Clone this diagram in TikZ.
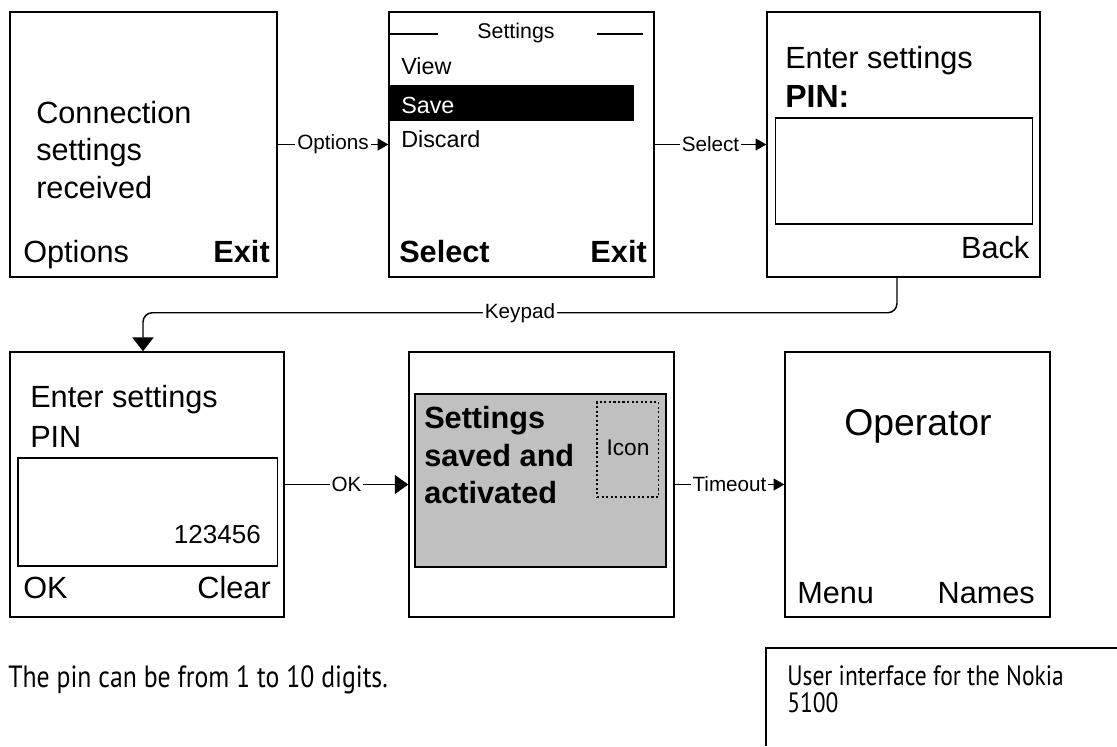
\documentclass[tikz,border=0pt]{standalone}
\usepackage{fontspec}
\setmainfont{Liberation Sans}
\newfontfamily\notefont[FakeStretch=0.84]{PT Sans}
\usetikzlibrary{arrows.meta,fit,calc}
\definecolor{panelgrey}{HTML}{C0C0C0}

\begin{document}
\begin{tikzpicture}[x=0.75pt,y=-0.75pt,
  screen/.style={draw, line width=1.1pt, inner sep=0pt},
  inbox/.style={draw, line width=1.1pt, inner sep=0pt},
  txt/.style={inner sep=0pt, font=\fontsize{23pt}{27pt}\selectfont},
  btxt/.style={inner sep=0pt, font=\fontsize{23pt}{27pt}\selectfont\bfseries},
  menutxt/.style={inner sep=0pt, font=\fontsize{17.5pt}{21pt}\selectfont},
  link/.style={line width=1.1pt},
  tipS/.style={-{Triangle[length=8pt,width=9pt]}},
  tipL/.style={-{Triangle[length=10pt,width=14pt]}},
  lbl/.style={fill=white, inner sep=1.5pt, font=\fontsize{15.5pt}{18pt}\selectfont},
  note/.style={inner sep=0pt, font=\notefont\fontsize{21pt}{25pt}\selectfont}]
\useasboundingbox (0,0) rectangle (1117,746);

% ---------- phone screens ----------
\node[screen, fit={(10,12) (277,277)}]   (s1) {};
\node[screen, fit={(389,12) (654,277)}]  (s2) {};
\node[screen, fit={(767,12) (1040,277)}] (s3) {};
\node[screen, fit={(10,352) (284,617)}]  (s4) {};
\node[screen, fit={(409,352) (674,617)}] (s5) {};
\node[screen, fit={(785,352) (1050,617)}] (s6) {};

% screen 1: incoming settings
\node[txt, anchor=base west] (s1a) at (36,123) {Connection};
\node[txt, anchor=base west] (s1b) at (36,160) {settings};
\node[txt, anchor=base west] (s1c) at (36,198) {received};
\node[txt, anchor=base west] (s1l) at (23,262) {Options};
\node[btxt, anchor=base east] (s1r) at (270,262) {Exit};

% screen 2: settings menu
\draw[line width=1.1pt] (389,34) -- (438,34);
\draw[line width=1.1pt] (597,34) -- (643,34);
\node[inner sep=0pt, font=\fontsize{16pt}{19pt}\selectfont, anchor=base] (s2h) at (516,38) {Settings};
\node[menutxt, anchor=base west] (s2a) at (401,74) {View};
\fill (389,85) rectangle (634,121);
\node[menutxt, anchor=base west, text=white] (s2b) at (401,113) {Save};
\node[menutxt, anchor=base west] (s2c) at (401,147) {Discard};
\node[btxt, anchor=base west] (s2l) at (399,262) {Select};
\node[btxt, anchor=base east] (s2r) at (647,262) {Exit};

% screen 3: PIN prompt
\node[txt, anchor=base west] (s3a) at (785,68) {Enter settings};
\node[btxt, anchor=base west, font=\fontsize{24pt}{28pt}\selectfont\bfseries] (s3b) at (785,107) {PIN:};
\node[inbox, fit={(775.5,118) (1032.5,224)}] (s3in) {};
\node[txt, anchor=base east] (s3r) at (1029.5,258) {Back};

% screen 4: PIN entered
\node[txt, anchor=base west] (s4a) at (30,407) {Enter settings};
\node[txt, anchor=base west] (s4b) at (30,447) {PIN};
\node[inbox, fit={(18,458) (277.5,566)}] (s4in) {};
\node[inner sep=0pt, font=\fontsize{19.5pt}{23pt}\selectfont, anchor=base east] (s4pin) at (261,543) {123456};
\node[txt, anchor=base west] (s4l) at (23,598) {OK};
\node[txt, anchor=base east] (s4r) at (271,598) {Clear};

% screen 5: confirmation note
\node[fill=panelgrey, draw, line width=1.1pt, inner sep=0pt, fit={(415,394) (666,567)}] (s5note) {};
\node[btxt, anchor=base west] (s5a) at (424,428) {Settings};
\node[btxt, anchor=base west] (s5b) at (424,466) {saved and};
\node[btxt, anchor=base west] (s5c) at (424,503) {activated};
\node[draw, line width=1.1pt, dash pattern=on 1.6pt off 1.8pt, inner sep=0pt, fit={(597,402) (658.5,497)}] (s5icon) {};
\node[inner sep=0pt, font=\fontsize{17pt}{20pt}\selectfont, anchor=base] (s5t) at (628,455) {Icon};

% screen 6: idle screen
\node[inner sep=0pt, font=\fontsize{28pt}{32pt}\selectfont, anchor=base] (s6a) at (918,435) {Operator};
\node[txt, anchor=base west] (s6l) at (797,603) {Menu};
\node[txt, anchor=base east] (s6r) at (1035,603) {Names};

% ---------- transitions ----------
\draw[link, tipS] (s1.east) -- node[lbl] (e1) {Options} (s2.west);
\draw[link, tipS] (s2.east) -- node[lbl] (e2) {Select} (s3.west);
\draw[link, -{Triangle[length=10.5pt,width=16pt]}, rounded corners=7pt]
  ($(s3.south)+(-6.5,0)$) -- ++(0,35) -| node[lbl, pos=0.25] (e3) {Keypad} ($(s4.north)+(-4,0)$);
\draw[link, tipL] (s4.east) -- node[lbl] (e4) {OK} (s5.west);
\draw[link, tipS] (s5.east) -- node[lbl] (e5) {Timeout} (s6.west);

% ---------- notes ----------
\node[note, anchor=base west, font=\notefont\fontsize{23pt}{27pt}\selectfont] (pinnote) at (8,687) {The pin can be from 1 to 10 digits.};
\draw[line width=1.5pt] (766,746) -- (766,648) -- (1117,648);
\node[note, anchor=base west] (cap1) at (787,685) {User interface for the Nokia};
\node[note, anchor=base west] (cap2) at (787,712) {5100};
\end{tikzpicture}
\end{document}
